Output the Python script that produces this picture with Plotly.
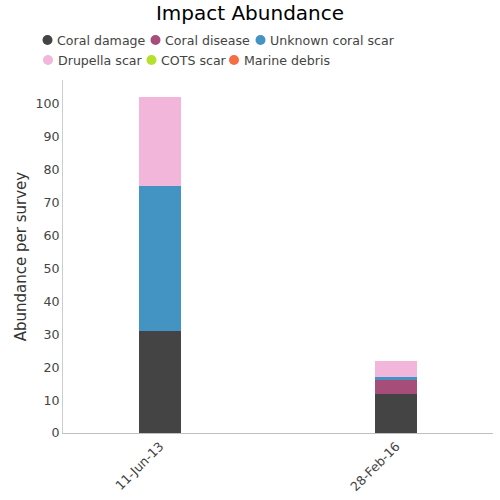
import plotly.graph_objects as go

dates = ["11-Jun-13", "28-Feb-16"]
coral_damage = [31, 12]
coral_disease = [0, 4]
unknown_coral_scar = [44, 1]
drupella_scar = [27, 5]
cots_scar = [0, 0]
marine_debris = [0, 0]

series = [
    ("Coral damage", coral_damage, "#444444"),
    ("Coral disease", coral_disease, "#a64d79"),
    ("Unknown coral scar", unknown_coral_scar, "#4393c3"),
    ("Drupella scar", drupella_scar, "#f1b6da"),
    ("COTS scar", cots_scar, "#b5e02b"),
    ("Marine debris", marine_debris, "#f46d43"),
]

# legend layout (pixel positions of circle centres)
legend_pos = [(47.5, 40), (155.5, 40), (260.5, 40), (48, 60), (151.5, 60), (234, 60)]

W, H = 500, 500
L, R, T, B = 63, 7, 80, 67
PW, PH = W - L - R, H - T - B

fig = go.Figure()
for name, vals, color in series:
    fig.add_trace(go.Bar(x=dates, y=vals, name=name, marker=dict(color=color, line=dict(width=0)),
                         width=0.18, showlegend=False))

shapes = []
annotations = []
for (name, vals, color), (cx, cy) in zip(series, legend_pos):
    shapes.append(dict(type="circle", xref="paper", yref="paper", xsizemode="pixel", ysizemode="pixel",
                       xanchor=(cx - L) / PW, yanchor=(H - B - cy) / PH,
                       x0=-5, x1=5, y0=-5, y1=5, fillcolor=color, line=dict(width=0)))
    annotations.append(dict(text=name, xref="paper", yref="paper",
                            x=(cx + 7.5 - L) / PW, y=(H - B - cy) / PH,
                            xanchor="left", yanchor="middle", showarrow=False,
                            font=dict(family="DejaVu Sans", size=12.6, color="#444444")))

fig.update_layout(
    width=W, height=H,
    barmode="stack",
    showlegend=False,
    paper_bgcolor="white", plot_bgcolor="white",
    font=dict(family="DejaVu Sans", size=13, color="#444444"),
    title=dict(text="Impact Abundance", x=0.5, xanchor="center", xref="container",
               y=0.974, yanchor="middle", yref="container",
               font=dict(size=20, color="#000000")),
    margin=dict(l=L, r=R, t=T, b=B, autoexpand=False),
    shapes=shapes,
    annotations=annotations,
    xaxis=dict(type="category", range=[-0.41, 1.41], showgrid=False, showline=True,
               linecolor="#c0c0c0", linewidth=1, tickangle=-45, ticks="", automargin=False,
               tickfont=dict(size=12.6, color="#444444")),
    yaxis=dict(range=[0, 107.3], dtick=10, showgrid=False, showline=True, linecolor="#cccccc",
               linewidth=1, ticks="", zeroline=False, automargin=False,
               title=dict(text="Abundance per survey", font=dict(size=15, color="#333333"), standoff=5),
               tickfont=dict(size=12.6, color="#444444")),
)

fig.write_html("out.html", config={"displayModeBar": False},
               post_script="document.body.style.margin='0';")
